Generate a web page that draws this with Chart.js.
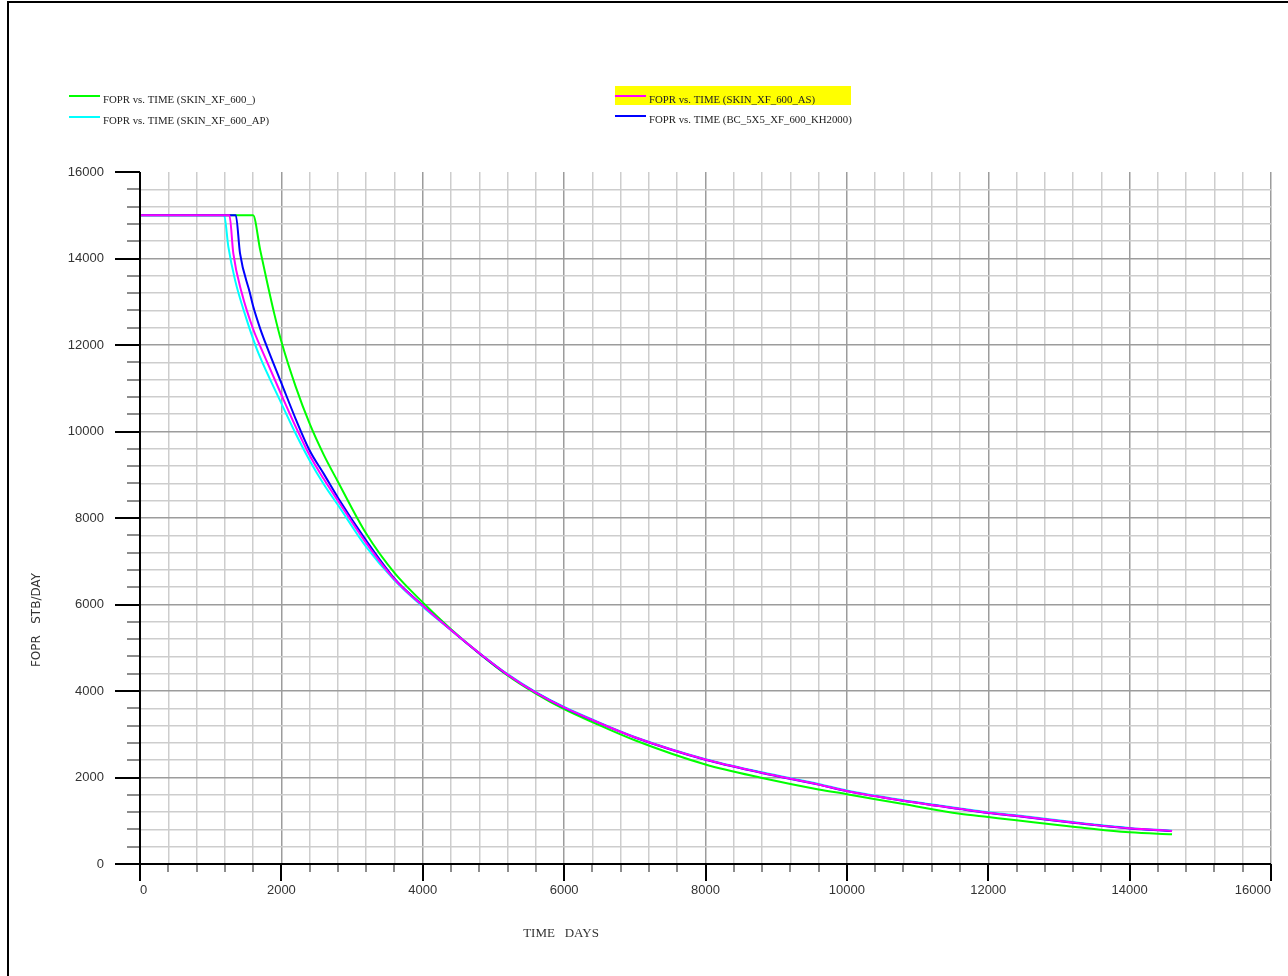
<!DOCTYPE html>
<html>
<head>
<meta charset="utf-8">
<title>FOPR vs. TIME</title>
<script src="https://cdn.jsdelivr.net/npm/chart.js@4.4.1/dist/chart.umd.min.js"></script>
<style>
  html, body { margin: 0; padding: 0; background: #fff; }
  #wrap { position: relative; width: 1288px; height: 976px; }
</style>
</head>
<body>
<div id="wrap"><canvas id="grafico" width="1288" height="976"></canvas></div>
<script>
// Dados das corridas (dias, STB/DAY)
const diasSkin = [0, 1600, 1700, 1800, 1900, 2000, 2200, 2400, 2600, 2800, 3200, 3600, 4000, 4400, 4800, 5200, 5600, 6000, 6400, 7000, 8000, 8800, 9600, 10000, 10800, 11600, 12000, 12400, 13200, 14000, 14600];
const foprSkin = [15000, 15000, 14200, 13440, 12720, 12080, 11050, 10180, 9460, 8840, 7640, 6730, 6050, 5430, 4870, 4360, 3940, 3580, 3280, 2860, 2300, 1990, 1725, 1615, 1385, 1160, 1085, 1010, 862, 733, 687];

const diasAP = [0, 1190, 1250, 1345, 1510, 1600, 1675, 2000, 2200, 2400, 2600, 2800, 3200, 3600, 4000, 4400, 4800, 5200, 5600, 6000, 6400, 7000, 8000, 8800, 9600, 10000, 10800, 11600, 12000, 12400, 13200, 14000, 14600];
const foprAP = [15000, 15000, 14270, 13500, 12580, 12140, 11810, 10650, 9960, 9330, 8780, 8300, 7330, 6560, 5950, 5410, 4880, 4390, 3975, 3630, 3340, 2940, 2425, 2120, 1850, 1700, 1475, 1285, 1195, 1125, 970, 835, 770];

const diasAS = [0, 1265, 1320, 1440, 1600, 1720, 2000, 2200, 2400, 2600, 2800, 3200, 3600, 4000, 4400, 4800, 5200, 5600, 6000, 6400, 7000, 8000, 8800, 9600, 10000, 10800, 11600, 12000, 12400, 13200, 14000, 14600];
const foprAS = [15000, 15000, 14120, 13200, 12370, 11900, 10850, 10120, 9450, 8900, 8400, 7420, 6580, 5970, 5410, 4876, 4380, 3965, 3620, 3330, 2930, 2415, 2110, 1840, 1690, 1465, 1275, 1185, 1115, 960, 825, 765];

const diasKH = [0, 1355, 1415, 1555, 1600, 1700, 1800, 2000, 2200, 2400, 2600, 2800, 3200, 3600, 4000, 4400, 4800, 5200, 5600, 6000, 6400, 7000, 8000, 8800, 9600, 10000, 10800, 11600, 12000, 12400, 13200, 14000, 14600];
const foprKH = [15000, 15000, 14120, 13200, 12900, 12380, 11940, 11120, 10300, 9560, 9020, 8470, 7480, 6600, 5980, 5410, 4870, 4375, 3960, 3615, 3325, 2925, 2410, 2105, 1835, 1685, 1460, 1270, 1180, 1110, 955, 822, 762];

const nomesSeries = ['FOPR vs. TIME (SKIN_XF_600_)', 'FOPR vs. TIME (SKIN_XF_600_AP)', 'FOPR vs. TIME (SKIN_XF_600_AS)', 'FOPR vs. TIME (BC_5X5_XF_600_KH2000)'];
const coresSeries = ['#00ff00', '#00ffff', '#ff00ff', '#0000ff'];

const eixoX = { min: 0, max: 16000, passo: 400, maior: 2000 };
const eixoY = { min: 0, max: 16000, passo: 400, maior: 2000 };

const pares = (xs, ys) => xs.map((x, i) => ({ x: x, y: ys[i] }));

// Eixos, marcas, títulos e legenda desenhados por cima do gráfico
const molduraPlugin = {
  id: 'moldura',
  afterDraw(chart) {
    const ctx = chart.ctx;
    const sx = chart.scales.x, sy = chart.scales.y;
    const a = chart.chartArea;
    ctx.save();

    // borda da figura
    ctx.strokeStyle = '#000';
    ctx.lineWidth = 2;
    ctx.beginPath();
    ctx.moveTo(8, 976); ctx.lineTo(8, 2); ctx.lineTo(1288, 2);
    ctx.stroke();

    // marcas do eixo Y
    for (let v = eixoY.min; v <= eixoY.max; v += eixoY.passo) {
      const y = Math.round(sy.getPixelForValue(v));
      const maior = v % eixoY.maior === 0;
      ctx.strokeStyle = maior ? '#000' : '#666';
      ctx.lineWidth = maior ? 2 : 1.5;
      ctx.beginPath();
      ctx.moveTo(a.left - (maior ? 25 : 13), y);
      ctx.lineTo(a.left, y);
      ctx.stroke();
    }
    // marcas do eixo X
    for (let v = eixoX.min; v <= eixoX.max; v += eixoX.passo) {
      const x = Math.round(sx.getPixelForValue(v));
      const maior = v % eixoX.maior === 0;
      ctx.strokeStyle = maior ? '#000' : '#666';
      ctx.lineWidth = maior ? 2 : 1.5;
      ctx.beginPath();
      ctx.moveTo(x, a.bottom);
      ctx.lineTo(x, a.bottom + (maior ? 17 : 8));
      ctx.stroke();
    }
    // linhas dos eixos
    ctx.strokeStyle = '#000';
    ctx.lineWidth = 2;
    ctx.beginPath();
    ctx.moveTo(a.left, a.top); ctx.lineTo(a.left, a.bottom + 17);
    ctx.moveTo(a.left - 25, a.bottom); ctx.lineTo(a.right, a.bottom);
    ctx.stroke();

    // títulos dos eixos
    ctx.fillStyle = '#333';
    ctx.textAlign = 'center';
    ctx.textBaseline = 'middle';
    ctx.font = '13px "Liberation Serif"';
    ctx.fillText('TIME   DAYS', 561, 934);
    ctx.save();
    ctx.translate(37, 620);
    ctx.rotate(-Math.PI / 2);
    ctx.font = '12px "DejaVu Sans"';
    ctx.fillText('FOPR   STB/DAY', 0, 0);
    ctx.restore();

    // legenda
    const leg = [
      { x: 69, y: 96, i: 0 },
      { x: 69, y: 117, i: 1 },
      { x: 615, y: 96, i: 2 },
      { x: 615, y: 116, i: 3 }
    ];
    ctx.fillStyle = '#ffff00';
    ctx.fillRect(615, 86, 236, 19);
    ctx.font = '10.8px "Liberation Serif"';
    ctx.textAlign = 'left';
    leg.forEach(l => {
      ctx.strokeStyle = coresSeries[l.i];
      ctx.lineWidth = 2;
      ctx.beginPath();
      ctx.moveTo(l.x, l.y); ctx.lineTo(l.x + 31, l.y);
      ctx.stroke();
      ctx.fillStyle = '#222';
      ctx.fillText(nomesSeries[l.i], l.x + 34, l.y + 4.5);
    });
    ctx.restore();
  }
};

const corGrade = (ctx, eixo) => {
  const v = ctx.tick.value;
  if (v === eixo.min || (eixo === eixoY && v === eixo.max)) return 'rgba(0,0,0,0)';
  return v % eixo.maior === 0 ? '#9c9c9c' : '#cdcdcd';
};

const serie = (i, xs, ys, ordem) => ({
  label: nomesSeries[i],
  data: pares(xs, ys),
  borderColor: coresSeries[i],
  backgroundColor: coresSeries[i],
  borderWidth: 2,
  pointRadius: 0,
  cubicInterpolationMode: 'monotone',
  fill: false,
  order: ordem
});

new Chart(document.getElementById('grafico').getContext('2d'), {
  type: 'line',
  data: {
    datasets: [
      serie(0, diasSkin, foprSkin, 3),
      serie(1, diasAP, foprAP, 2),
      serie(3, diasKH, foprKH, 1),
      serie(2, diasAS, foprAS, 0)
    ]
  },
  options: {
    responsive: false,
    animation: false,
    layout: { padding: { top: 172, right: 17, bottom: 0, left: 0 } },
    plugins: { legend: { display: false }, tooltip: { enabled: false } },
    scales: {
      x: {
        type: 'linear',
        min: eixoX.min,
        max: eixoX.max,
        afterFit: s => { s.height = 112; s.paddingLeft = 0; s.paddingRight = 0; },
        border: { display: false },
        grid: { drawTicks: false, lineWidth: 1.5, color: c => corGrade(c, eixoX) },
        ticks: {
          stepSize: eixoX.passo,
          autoSkip: false,
          maxRotation: 0,
          align: 'inner',
          padding: 19,
          color: '#333',
          font: { family: 'Liberation Sans', size: 13 },
          callback: v => (v % eixoX.maior === 0 ? String(v) : '')
        }
      },
      y: {
        type: 'linear',
        min: eixoY.min,
        max: eixoY.max,
        afterFit: s => { s.width = 140; s.paddingTop = 0; s.paddingBottom = 0; },
        border: { display: false },
        grid: { drawTicks: false, lineWidth: 1.5, color: c => corGrade(c, eixoY) },
        ticks: {
          stepSize: eixoY.passo,
          autoSkip: false,
          padding: 36,
          color: '#333',
          font: { family: 'Liberation Sans', size: 13 },
          callback: v => (v % eixoY.maior === 0 ? String(v) : '')
        }
      }
    }
  },
  plugins: [molduraPlugin]
});
</script>
</body>
</html>
